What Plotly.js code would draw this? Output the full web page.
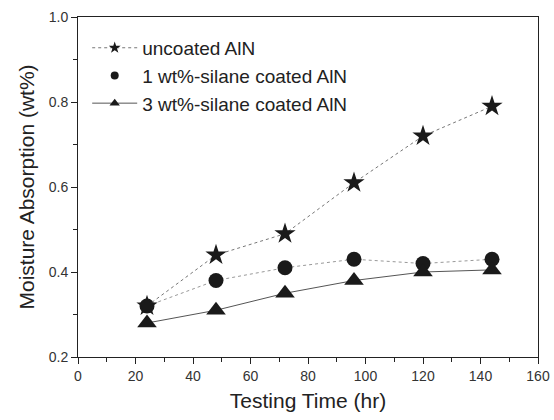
<!DOCTYPE html>
<html><head><meta charset="utf-8">
<script src="https://cdn.plot.ly/plotly-3.0.1.min.js"></script>
<style>body{margin:0;background:#fff}#c{width:554px;height:420px}</style>
</head><body><div id="c"></div>
<script>
const time = [24, 48, 72, 96, 120, 144];
const uncoated = [0.32, 0.44, 0.49, 0.61, 0.72, 0.79];
const coated1 = [0.32, 0.38, 0.41, 0.43, 0.42, 0.43];
const coated3 = [0.28, 0.31, 0.35, 0.38, 0.40, 0.405];
const names = ['uncoated AlN', '1 wt%-silane coated AlN', '3 wt%-silane coated AlN'];
const xTicks = [0, 20, 40, 60, 80, 100, 120, 140, 160];
const yTicks = [0.2, 0.4, 0.6, 0.8, 1.0];

const mc = '#1a1a1a';
const dotLine = {color: '#777', width: 1, dash: 'dot'};
const solidLine = {color: '#555', width: 1};
const traces = [
  // data traces
  {x: time, y: coated1, mode: 'lines+markers', line: {color: '#999', width: 1, dash: 'dot'},
   marker: {symbol: 'circle', size: 15, color: mc}, showlegend: false},
  {x: time, y: coated3, mode: 'lines+markers', line: solidLine,
   marker: {symbol: 'triangle-up', size: 17, color: mc}, showlegend: false},
  {x: time, y: uncoated, mode: 'lines+markers', line: dotLine,
   marker: {symbol: 'star', size: 16, color: mc}, showlegend: false},
  // legend entries (small legend symbols, as in the figure)
  {x: [null], y: [null], name: names[2], mode: 'lines+markers', line: solidLine,
   marker: {symbol: 'triangle-up', size: 9, color: mc}},
  {x: [null], y: [null], name: names[1], mode: 'markers',
   marker: {symbol: 'circle', size: 8, color: mc}},
  {x: [null], y: [null], name: names[0], mode: 'lines+markers', line: dotLine,
   marker: {symbol: 'star', size: 9, color: mc}}
];
const tf = {family: 'Liberation Sans, Arial, sans-serif', size: 14, color: '#333'};
const axisCommon = {
  showgrid: false, zeroline: false, showline: true, linecolor: '#222', linewidth: 1, mirror: true,
  ticks: 'outside', ticklen: 6, tickcolor: '#222', tickfont: tf
};
const layout = {
  width: 554, height: 420,
  margin: {l: 78, r: 16, t: 17, b: 63},
  paper_bgcolor: '#fff', plot_bgcolor: '#fff',
  font: {family: 'Liberation Sans, Arial, sans-serif', color: '#222'},
  xaxis: Object.assign({}, axisCommon, {range: [0, 160], tickvals: xTicks, ticktext: xTicks.map(String),
    minor: {ticks: 'outside', ticklen: 4, tickcolor: '#222', dtick: 10, tick0: 0},
    title: {text: 'Testing Time (hr)', font: {size: 21, color: '#222'}, standoff: 10}}),
  yaxis: Object.assign({}, axisCommon, {range: [0.2, 1.0], tickvals: yTicks, ticktext: yTicks.map(v => v.toFixed(1)),
    minor: {ticks: 'outside', ticklen: 4, tickcolor: '#222', dtick: 0.1, tick0: 0.2},
    title: {text: 'Moisture Absorption (wt%)', font: {size: 21, color: '#222'}, standoff: 8}}),
  legend: {x: 0.02, y: 0.965, xanchor: 'left', yanchor: 'top', traceorder: 'reversed',
    font: {size: 19, color: '#222'}, bgcolor: 'rgba(0,0,0,0)', itemwidth: 45, tracegroupgap: 0},
  showlegend: true
};
Plotly.newPlot('c', traces, layout, {displayModeBar: false, staticPlot: true});
</script></body></html>
